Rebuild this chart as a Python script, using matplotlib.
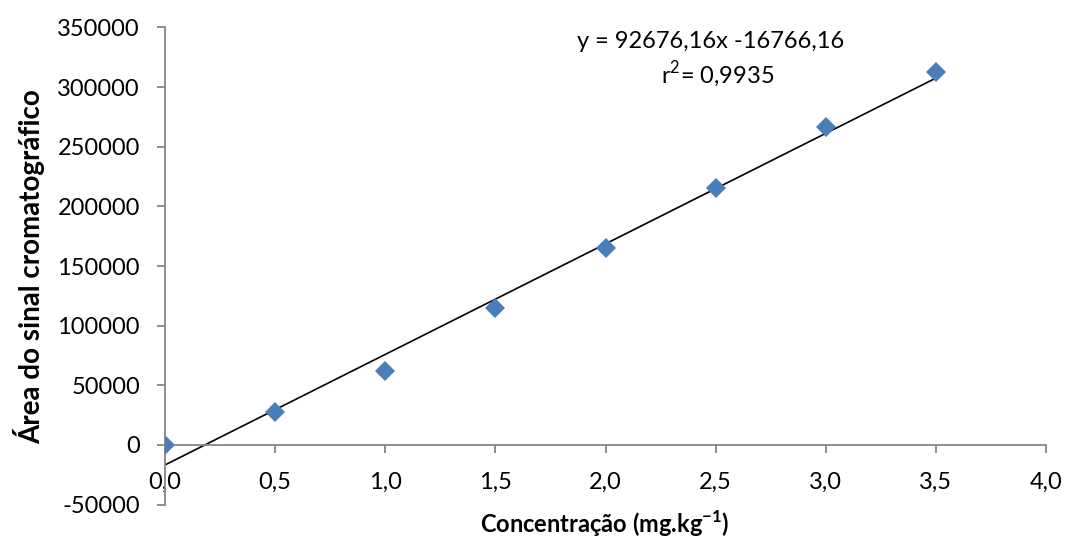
import matplotlib
matplotlib.use("Agg")
import matplotlib.pyplot as plt
import numpy as np

# dados da curva de calibração
concentracao = [0.0, 0.5, 1.0, 1.5, 2.0, 2.5, 3.0, 3.5]
area = [0, 27500, 62300, 114800, 165000, 215500, 266200, 313000]
inclinacao = 92676.16
intercepto = -16766.16
texto_eq = "y = 92676,16x -16766,16"
texto_r2 = "r$^{2}$= 0,9935"
x_ticks = [0.0, 0.5, 1.0, 1.5, 2.0, 2.5, 3.0, 3.5, 4.0]
y_ticks = [-50000, 0, 50000, 100000, 150000, 200000, 250000, 300000, 350000]

plt.rcParams['font.family'] = ['Lato', 'DejaVu Sans']
plt.rcParams['mathtext.fontset'] = 'custom'
plt.rcParams['mathtext.rm'] = 'Lato'
plt.rcParams['mathtext.bf'] = 'Lato:bold'

fig = plt.figure(figsize=(10.65, 5.39), dpi=100)
ax = fig.add_axes([0.1549, 0.0638, 0.8273, 0.8852])

ax.plot(concentracao, area, linestyle='none', marker='D', markersize=10.5,
        markeredgewidth=0, color='#4A7EBB', zorder=3)

xs = np.array([concentracao[0], concentracao[-1]])
ax.plot(xs, inclinacao * xs + intercepto, color='black', linewidth=1.2, zorder=2)

ax.set_xlim(0, 4.0)
ax.set_ylim(-50000, 350000)
ax.set_xticks(x_ticks)
ax.set_yticks(y_ticks)
ax.set_xticklabels([f"{v:.1f}".replace('.', ',') for v in x_ticks])
ax.set_yticklabels([str(v) for v in y_ticks])

cinza = '#868686'
for lado in ['top', 'right']:
    ax.spines[lado].set_visible(False)
ax.spines['bottom'].set_position(('data', 0))
ax.spines['bottom'].set_color(cinza)
ax.spines['left'].set_color(cinza)
ax.spines['bottom'].set_linewidth(1.3)
ax.spines['left'].set_linewidth(1.3)
ax.tick_params(axis='both', colors=cinza, labelcolor='black', labelsize=17,
               width=1.3, direction='out')
ax.tick_params(axis='x', length=5.5, pad=14)
ax.tick_params(axis='y', length=6, pad=12)

fig.text(0.568, 0.028, "Concentração (mg.kg$^{\\mathbf{-1}}$)", fontsize=17,
         fontweight='bold', ha='center', va='center')
fig.text(0.027, 0.506, "Área do sinal cromatográfico", fontsize=20,
         fontweight='bold', ha='center', va='center', rotation=90)

ax.text(2.477, 338000, texto_eq, fontsize=17, ha='center', va='center')
ax.text(2.51, 310000, texto_r2, fontsize=17, ha='center', va='center')

fig.savefig("out.png", dpi=100)
